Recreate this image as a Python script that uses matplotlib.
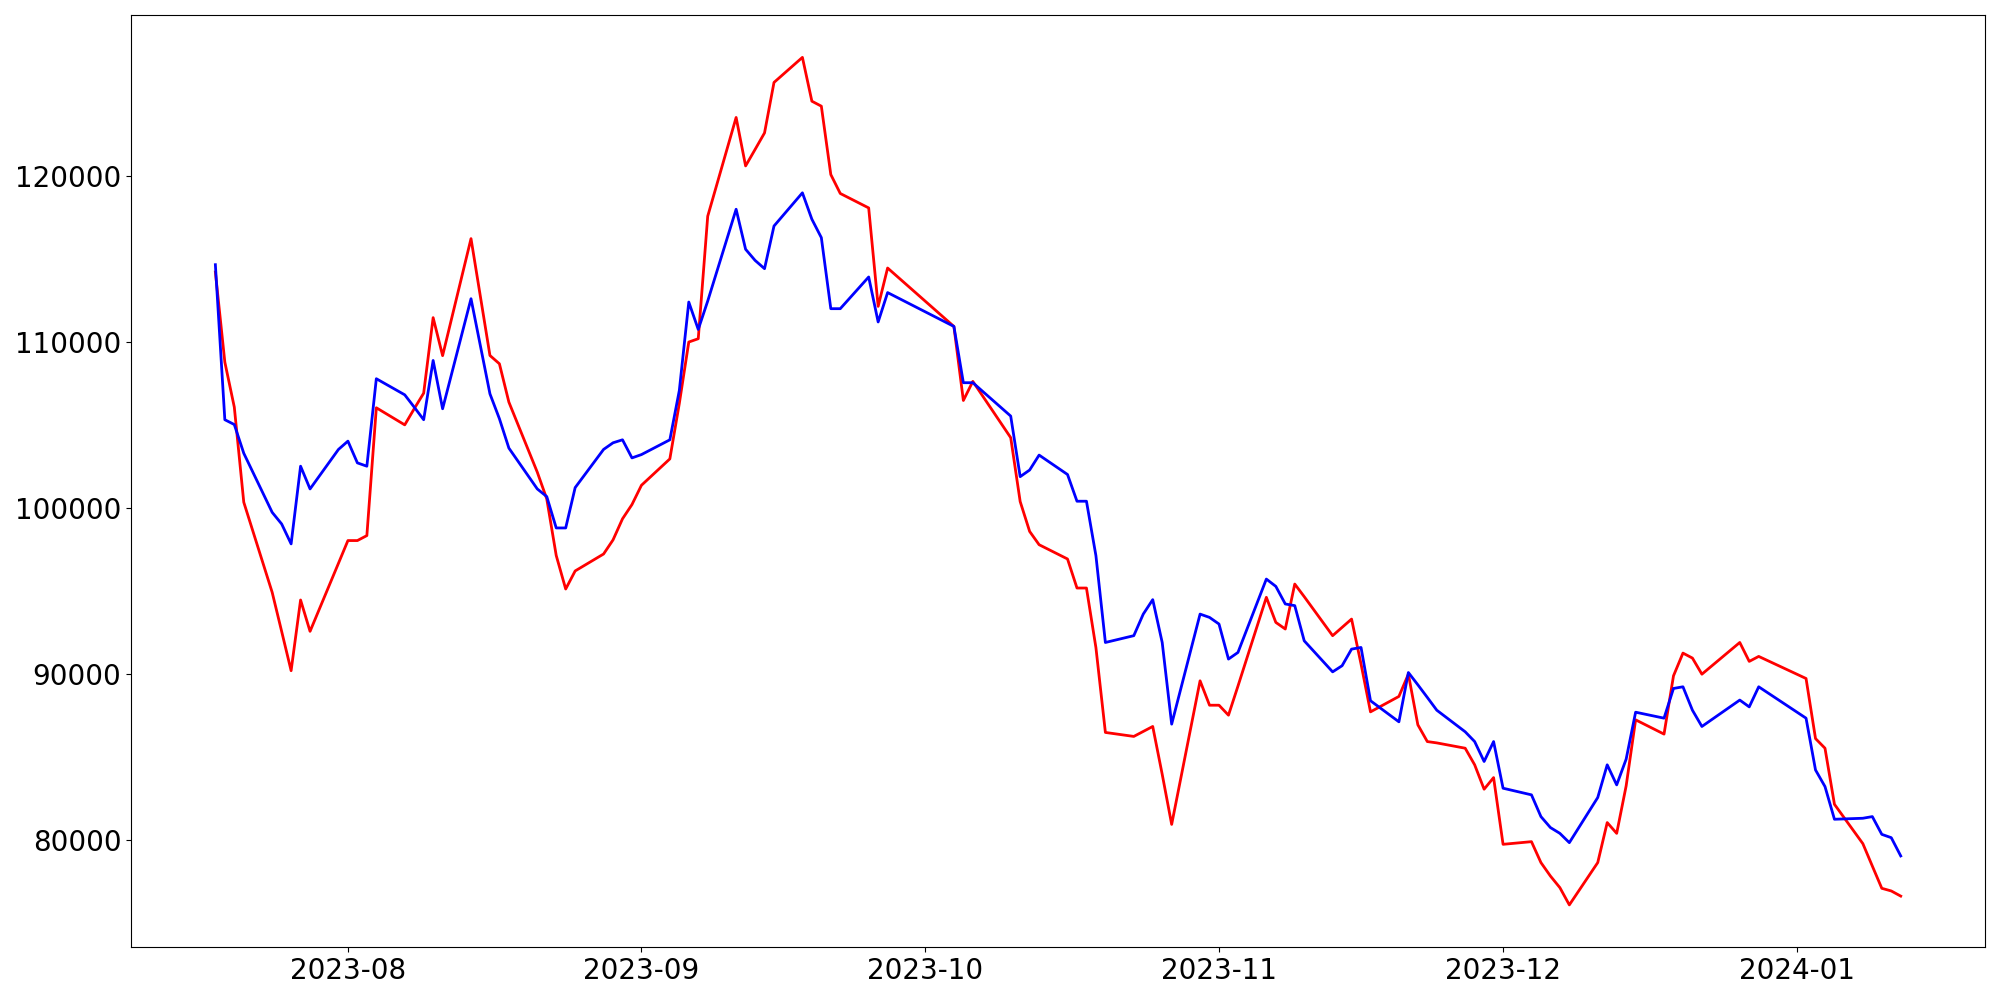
import matplotlib
matplotlib.use("Agg")
from matplotlib import pyplot as plt
import pandas as pd

# trading days (KRX holidays removed)
holidays = ["2023-08-15", "2023-09-28", "2023-09-29", "2023-10-02", "2023-10-03",
            "2023-10-09", "2023-12-25", "2023-12-29", "2024-01-01"]
dates = pd.bdate_range("2023-07-18", "2024-01-12", freq="C", holidays=holidays)

blue_vals = [
    # Jul
    114670, 105330, 105040, 103310, 99750, 99050, 97850, 102530, 101160, 103540,
    # Aug
    104040, 102730, 102530, 107800, 106830, 106090, 105330, 108900, 105990, 112620,
    106890, 105390, 103620, 101160, 100700, 98810, 98810, 101240, 103540, 103940,
    104120, 103030,
    # Sep
    103230, 104120, 107090, 112420, 110770, 112480, 118010, 115600, 114930, 114430,
    117000, 119000, 117410, 116300, 112020, 112020, 113930, 111220, 112990,
    # Oct
    110950, 107560, 107560, 105550, 101900, 102300, 103200, 102030, 100420, 100420,
    97140, 91910, 92320, 93620, 94490, 91910, 86990, 93620, 93420,
    # Nov
    93020, 90910, 91310, 95730, 95290, 94230, 94130, 92010, 90140, 90510,
    91510, 91610, 88400, 87130, 90100, 89360, 88600, 87830, 86530, 85940,
    84740, 85940,
    # Dec
    83130, 82730, 81420, 80760, 80410, 79850, 82570, 84540, 83330, 84880,
    87710, 87350, 89140, 89240, 87830, 86850, 88440, 88030, 89240,
    # Jan
    87350, 84230, 83230, 81260, 81320, 81420, 80350, 80150, 79050,
]

red_vals = [
    # Jul
    114230, 108800, 106090, 100360, 94930, 92580, 90210, 94470, 92580, 96680,
    # Aug
    98050, 98050, 98350, 106050, 105020, 105990, 106930, 111480, 109190, 116240,
    109200, 108700, 106390, 102170, 100560, 97150, 95130, 96220, 97240, 98090,
    99360, 100220,
    # Sep
    101380, 102970, 106310, 110010, 110210, 117590, 123540, 120620, 121610, 122610,
    125650, 127160, 124520, 124220, 120100, 118960, 118090, 112160, 114470,
    # Oct
    110950, 106490, 107640, 104250, 100400, 98600, 97800, 96940, 95190, 95190,
    91600, 86490, 86250, 86550, 86850, 83970, 80950, 89600, 88130,
    # Nov
    88130, 87530, 89280, 94630, 93120, 92720, 95430, 94670, 92320, 92820,
    93320, 90610, 87730, 88660, 90000, 86950, 85940, 85860, 85540, 84540,
    83070, 83770,
    # Dec
    79750, 79910, 78650, 77840, 77140, 76100, 78650, 81060, 80410, 83270,
    87250, 86390, 89900, 91270, 90970, 90000, 91910, 90770, 91070,
    # Jan
    89740, 86120, 85540, 82160, 79790, 78440, 77100, 76940, 76630,
]

fig, ax = plt.subplots(figsize=(20, 10), dpi=100)
ax.plot(dates, red_vals, color="red", linewidth=2)
ax.plot(dates, blue_vals, color="blue", linewidth=2)
ax.tick_params(axis="both", labelsize=20)

fig.tight_layout()
fig.savefig("out.png")
